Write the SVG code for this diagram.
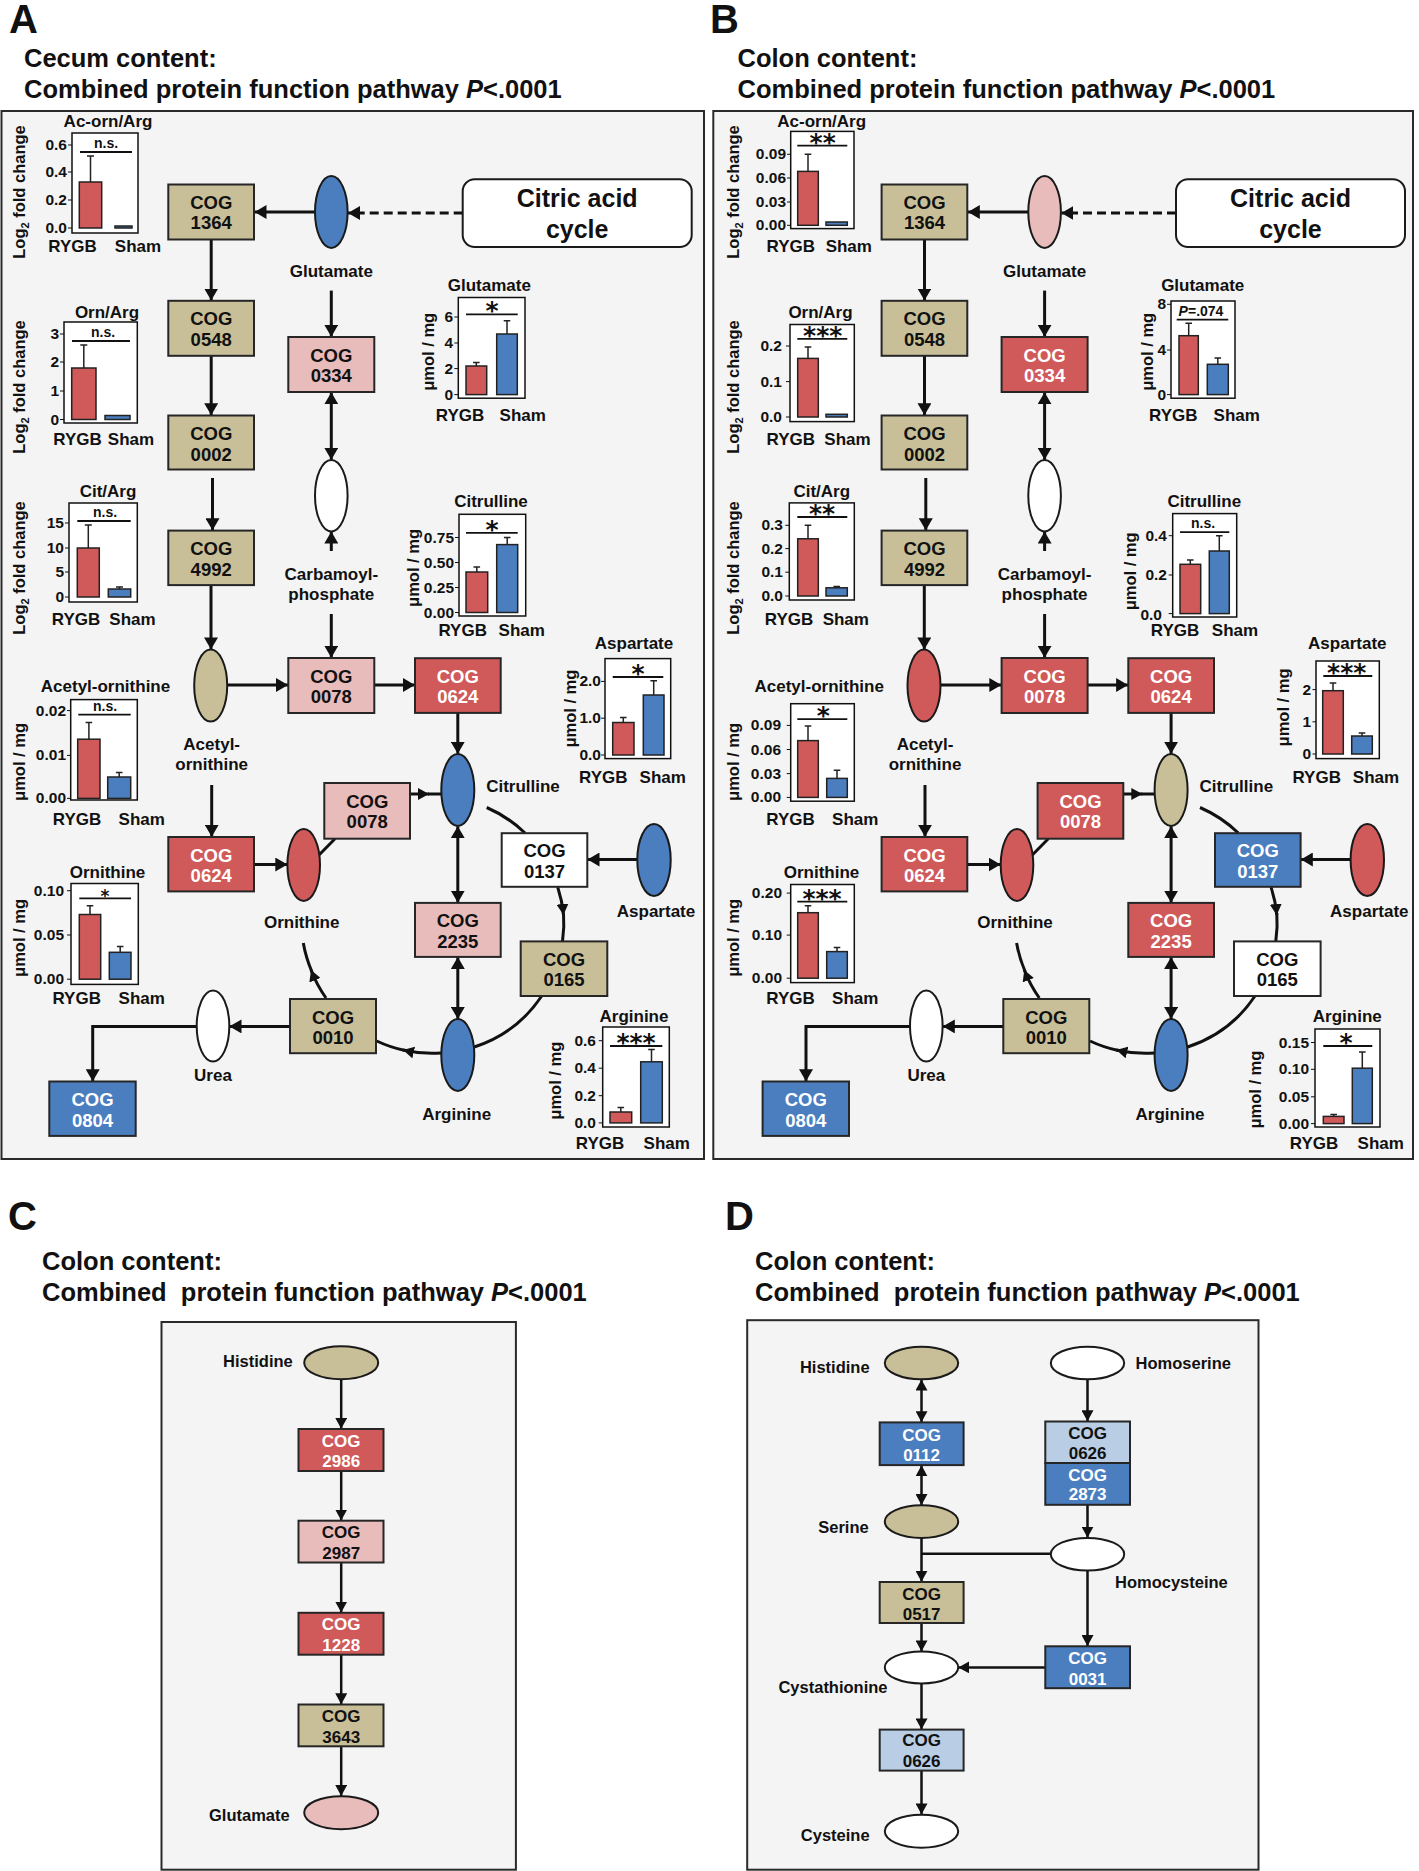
<svg xmlns="http://www.w3.org/2000/svg" width="1419" height="1871" viewBox="0 0 1419 1871">
<defs>
<style>
text{font-family:"Liberation Sans",Arial,Helvetica,sans-serif;font-weight:bold;fill:#111}
.frame{fill:#f4f4f4;stroke:#2a2a2a;stroke-width:2}
.cog{stroke:#262626;stroke-width:2}
.ell{stroke:#1a1a1a;stroke-width:2}
.tan{fill:#c8bf98}.pink{fill:#e9bcbc}.red{fill:#d05a5a}.blue{fill:#4a7ebf}.lblue{fill:#b9cde5}.wht{fill:#ffffff}
.ct{font-size:18.5px;text-anchor:middle}
.cs{font-size:17px;text-anchor:middle}
.ctw{fill:#fff}
.nl{font-size:17px;text-anchor:middle}
.nle{font-size:16.5px;text-anchor:end}
.nls{font-size:16.5px;text-anchor:start}
.pl{font-size:40px}
.t1{font-size:25.5px}
.cit{font-size:25px;text-anchor:middle}
.c{stroke:#111;stroke-width:3;fill:none}
.c2{stroke:#111;stroke-width:2.5;fill:none}
.dash{stroke-dasharray:9 5}
.chbox{fill:#fff;stroke:#111;stroke-width:1.5}
.br{fill:#d05a5a;stroke:#222;stroke-width:1.5}
.bb{fill:#4a7ebf;stroke:#222;stroke-width:1.5}
.err{stroke:#222;stroke-width:1.5;fill:none}
.sig{stroke:#111;stroke-width:1.8}
.tk{font-size:15.5px;text-anchor:end}
.tkm{stroke:#111;stroke-width:1;fill:none}
.grp{font-size:17px;text-anchor:middle}
.ttl{font-size:17px;text-anchor:middle}
.yl{font-size:16.5px;text-anchor:middle}
.ns{font-size:14px;text-anchor:middle}
.ast{font-family:"DejaVu Sans",sans-serif;font-size:25px;text-anchor:middle}
.pv{font-size:14px;text-anchor:middle}
</style>
<marker id="ah" viewBox="0 0 12 14" refX="12" refY="7" markerWidth="12" markerHeight="14" markerUnits="userSpaceOnUse" orient="auto-start-reverse"><path d="M0,0L12,7L0,14z" fill="#111"/></marker>
<marker id="ah2" viewBox="0 0 11 12" refX="11" refY="6" markerWidth="11" markerHeight="12" markerUnits="userSpaceOnUse" orient="auto-start-reverse"><path d="M0,0L11,6L0,12z" fill="#111"/></marker>
</defs>
<rect x="0" y="0" width="1419" height="1871" fill="#fff"/>

<!-- ================= PANEL A ================= -->
<g id="panelA-header">
<text class="pl" x="9" y="33">A</text>
<text class="t1" x="24" y="67">Cecum content:</text>
<text class="t1" x="24" y="98">Combined protein function pathway <tspan font-style="italic">P</tspan>&lt;.0001</text>
</g>
<rect id="frameA" class="frame" x="1.5" y="111" width="702.5" height="1048"/>

<g id="A-chart-acorn-arg">
<text class="ttl" x="108" y="127">Ac-orn/Arg</text>
<rect class="chbox" x="72" y="133" width="66" height="100"/>
<path class="tkm" d="M68,145H72M68,172H72M68,200H72M68,228H72"/>
<text class="tk" x="67" y="150">0.6</text><text class="tk" x="67" y="177">0.4</text><text class="tk" x="67" y="205">0.2</text><text class="tk" x="67" y="233">0.0</text>
<line class="sig" x1="80" y1="152" x2="132" y2="152"/><text class="ns" x="106" y="148">n.s.</text>
<rect class="br" x="79.3" y="182" width="22.4" height="46"/><path class="err" d="M90.5,182V156M87,156H94"/>
<rect class="bb" x="115" y="226" width="17" height="2"/>
<text class="grp" x="72.5" y="252">RYGB</text><text class="grp" x="138" y="252">Sham</text>
<text class="yl" transform="translate(19 192) rotate(-90)" y="6">Log<tspan font-size="11" dy="4">2</tspan><tspan dy="-4"> fold change</tspan></text>
</g>

<g id="A-chart-orn-arg">
<text class="ttl" x="107" y="317.5">Orn/Arg</text>
<rect class="chbox" x="64" y="322" width="73.3" height="101"/>
<path class="tkm" d="M60,334H64M60,362H64M60,391H64M60,419.5H64"/>
<text class="tk" x="59" y="339">3</text><text class="tk" x="59" y="367">2</text><text class="tk" x="59" y="396">1</text><text class="tk" x="59" y="424.5">0</text>
<line class="sig" x1="72" y1="341" x2="130" y2="341"/><text class="ns" x="103" y="337">n.s.</text>
<rect class="br" x="71.7" y="368" width="24.3" height="51.5"/><path class="err" d="M83.8,368V345M80.3,345H87.3"/>
<rect class="bb" x="105" y="415.5" width="25" height="4"/>
<text class="grp" x="77.5" y="445">RYGB</text><text class="grp" x="131" y="445">Sham</text>
<text class="yl" transform="translate(19 387) rotate(-90)" y="6">Log<tspan font-size="11" dy="4">2</tspan><tspan dy="-4"> fold change</tspan></text>
</g>

<g id="A-chart-cit-arg">
<text class="ttl" x="108" y="497">Cit/Arg</text>
<rect class="chbox" x="69" y="503" width="68.3" height="99"/>
<path class="tkm" d="M65,523H69M65,548H69M65,572H69M65,597H69"/>
<text class="tk" x="64" y="528">15</text><text class="tk" x="64" y="553">10</text><text class="tk" x="64" y="577">5</text><text class="tk" x="64" y="602">0</text>
<line class="sig" x1="77.3" y1="521" x2="130.7" y2="521"/><text class="ns" x="105" y="517">n.s.</text>
<rect class="br" x="77.3" y="548" width="22" height="49"/><path class="err" d="M88.3,548V525M84.8,525H91.8"/>
<rect class="bb" x="108.3" y="589" width="22.4" height="8"/><path class="err" d="M119.5,589V587M116,587H123"/>
<text class="grp" x="76" y="624.5">RYGB</text><text class="grp" x="132.5" y="624.5">Sham</text>
<text class="yl" transform="translate(19 568) rotate(-90)" y="6">Log<tspan font-size="11" dy="4">2</tspan><tspan dy="-4"> fold change</tspan></text>
</g>

<g id="A-chart-glutamate">
<text class="ttl" x="489.3" y="291">Glutamate</text>
<rect class="chbox" x="458.3" y="297.5" width="66.7" height="100.7"/>
<path class="tkm" d="M454.3,317H458.3M454.3,343H458.3M454.3,368.6H458.3M454.3,394.6H458.3"/>
<text class="tk" x="453" y="322">6</text><text class="tk" x="453" y="348">4</text><text class="tk" x="453" y="373.6">2</text><text class="tk" x="453" y="399.6">0</text>
<line class="sig" x1="466" y1="314.3" x2="517.7" y2="314.3"/><text class="ast" x="492" y="319.3">*</text>
<rect class="br" x="466" y="366" width="20.7" height="28.6"/><path class="err" d="M476.3,366V362.5M473,362.5H479.6"/>
<rect class="bb" x="496.7" y="334" width="20.6" height="60.6"/><path class="err" d="M507,334V320.7M503.7,320.7H510.3"/>
<text class="grp" x="460" y="421.4">RYGB</text><text class="grp" x="522.7" y="421.4">Sham</text>
<text class="yl" transform="translate(428.3 351.8) rotate(-90)" y="6">μmol / mg</text>
</g>

<g id="A-chart-citrulline">
<text class="ttl" x="491" y="507">Citrulline</text>
<rect class="chbox" x="459" y="514.3" width="66.7" height="101.7"/>
<path class="tkm" d="M455,537.5H459M455,562.5H459M455,587.5H459M455,612.5H459"/>
<text class="tk" x="454" y="542.5">0.75</text><text class="tk" x="454" y="567.5">0.50</text><text class="tk" x="454" y="592.5">0.25</text><text class="tk" x="454" y="617.5">0.00</text>
<line class="sig" x1="466" y1="532.9" x2="517.7" y2="532.9"/><text class="ast" x="492" y="537.9">*</text>
<rect class="br" x="466" y="572" width="21.7" height="40.5"/><path class="err" d="M476.8,572V567M473.5,567H480.1"/>
<rect class="bb" x="496.7" y="544.6" width="21" height="67.9"/><path class="err" d="M507.2,544.6V537.5M503.9,537.5H510.5"/>
<text class="grp" x="462.7" y="635.7">RYGB</text><text class="grp" x="521.7" y="635.7">Sham</text>
<text class="yl" transform="translate(413.3 568) rotate(-90)" y="6">μmol / mg</text>
</g>

<g id="A-chart-aspartate">
<text class="ttl" x="634" y="649.3">Aspartate</text>
<rect class="chbox" x="605" y="658.6" width="65.7" height="100"/>
<path class="tkm" d="M601,681.4H605M601,718.2H605M601,755H605"/>
<text class="tk" x="601" y="686.4">2.0</text><text class="tk" x="601" y="723.2">1.0</text><text class="tk" x="601" y="760">0.0</text>
<line class="sig" x1="612.7" y1="677" x2="663.3" y2="677"/><text class="ast" x="638" y="682">*</text>
<rect class="br" x="612.7" y="722.5" width="21.3" height="32.5"/><path class="err" d="M623.3,722.5V717.5M620,717.5H626.6"/>
<rect class="bb" x="643.3" y="695" width="20.7" height="60"/><path class="err" d="M653.7,695V680.7M650.4,680.7H657"/>
<text class="grp" x="603.3" y="782.5">RYGB</text><text class="grp" x="662.7" y="782.5">Sham</text>
<text class="yl" transform="translate(570 708.6) rotate(-90)" y="6">μmol / mg</text>
</g>

<g id="A-chart-acetylornithine">
<text class="ttl" x="105.5" y="691.7">Acetyl-ornithine</text>
<rect class="chbox" x="70.7" y="699.6" width="66.6" height="100.4"/>
<path class="tkm" d="M67,710.6H70.7M67,755.4H70.7M67,798.4H70.7"/>
<text class="tk" x="66" y="715.6">0.02</text><text class="tk" x="66" y="760.4">0.01</text><text class="tk" x="66" y="803.4">0.00</text>
<line class="sig" x1="78.3" y1="714.7" x2="130.7" y2="714.7"/><text class="ns" x="105" y="710.7">n.s.</text>
<rect class="br" x="77.7" y="739.2" width="22.3" height="59.2"/><path class="err" d="M88.9,739.2V722.6M85.6,722.6H92.2"/>
<rect class="bb" x="107.7" y="777" width="23" height="21.4"/><path class="err" d="M119.2,777V772.6M115.9,772.6H122.5"/>
<text class="grp" x="77" y="825.3">RYGB</text><text class="grp" x="141.7" y="825.3">Sham</text>
<text class="yl" transform="translate(19 762) rotate(-90)" y="6">μmol / mg</text>
</g>

<g id="A-chart-ornithine">
<text class="ttl" x="107.5" y="877.6">Ornithine</text>
<rect class="chbox" x="71" y="883.5" width="67.3" height="100.9"/>
<path class="tkm" d="M67,890.7H71M67,935H71M67,979.2H71"/>
<text class="tk" x="64" y="895.7">0.10</text><text class="tk" x="64" y="940">0.05</text><text class="tk" x="64" y="984.2">0.00</text>
<line class="sig" x1="79.3" y1="898.3" x2="131" y2="898.3"/><text class="ast" x="105" y="901.8" style="font-size:17px">*</text>
<rect class="br" x="79.3" y="914.5" width="21.4" height="64.7"/><path class="err" d="M90,914.5V905.8M86.7,905.8H93.3"/>
<rect class="bb" x="109.3" y="952.3" width="21.7" height="26.9"/><path class="err" d="M120.2,952.3V946.5M116.9,946.5H123.5"/>
<text class="grp" x="76.7" y="1004.3">RYGB</text><text class="grp" x="141.7" y="1004.3">Sham</text>
<text class="yl" transform="translate(19 938) rotate(-90)" y="6">μmol / mg</text>
</g>

<g id="A-chart-arginine">
<text class="ttl" x="634" y="1021.8">Arginine</text>
<rect class="chbox" x="602.7" y="1027" width="66.6" height="100"/>
<path class="tkm" d="M598.7,1040.7H602.7M598.7,1068.2H602.7M598.7,1095.7H602.7M598.7,1122.9H602.7"/>
<text class="tk" x="596" y="1045.7">0.6</text><text class="tk" x="596" y="1073.2">0.4</text><text class="tk" x="596" y="1100.7">0.2</text><text class="tk" x="596" y="1127.9">0.0</text>
<line class="sig" x1="610" y1="1046" x2="662.3" y2="1046"/><text class="ast" x="636" y="1051">***</text>
<rect class="br" x="610" y="1112" width="21.7" height="10.9"/><path class="err" d="M620.8,1112V1107.5M617.5,1107.5H624.1"/>
<rect class="bb" x="640.7" y="1061.8" width="21.6" height="61.1"/><path class="err" d="M651.5,1061.8V1049.6M648.2,1049.6H654.8"/>
<text class="grp" x="600" y="1149.3">RYGB</text><text class="grp" x="666.7" y="1149.3">Sham</text>
<text class="yl" transform="translate(555 1080.7) rotate(-90)" y="6">μmol / mg</text>
</g>

<g id="connectors-A">
<line class="c" x1="315" y1="212" x2="254.5" y2="212" marker-end="url(#ah)"/>
<line class="c dash" x1="462.7" y1="213" x2="348" y2="213" marker-end="url(#ah)"/>
<line class="c" x1="211.2" y1="240" x2="211.2" y2="300.5" marker-end="url(#ah)"/>
<line class="c" x1="211.2" y1="355.8" x2="211.2" y2="415.2" marker-end="url(#ah)"/>
<line class="c" x1="212.5" y1="478" x2="212.5" y2="530.3" marker-end="url(#ah)"/>
<line class="c" x1="211" y1="585.6" x2="211" y2="649.4" marker-end="url(#ah)"/>
<line class="c" x1="331.3" y1="290.6" x2="331.3" y2="336.8" marker-end="url(#ah)"/>
<line class="c" x1="331.3" y1="392.3" x2="331.3" y2="459.8" marker-start="url(#ah)" marker-end="url(#ah)"/>
<line class="c" x1="331.3" y1="551" x2="331.3" y2="531.6" marker-end="url(#ah)"/>
<line class="c" x1="331.3" y1="614" x2="331.3" y2="657.8" marker-end="url(#ah)"/>
<line class="c" x1="227.2" y1="685" x2="288" y2="685" marker-end="url(#ah)"/>
<line class="c" x1="374.3" y1="685" x2="414.8" y2="685" marker-end="url(#ah)"/>
<line class="c" x1="457.8" y1="713" x2="457.8" y2="753.8" marker-end="url(#ah)"/>
<line class="c" x1="211.7" y1="785" x2="211.7" y2="836.8" marker-end="url(#ah)"/>
<line class="c" x1="254" y1="864.5" x2="287.3" y2="864.5" marker-end="url(#ah)"/>
<line class="c" x1="319" y1="855" x2="335" y2="838.7"/>
<line class="c" x1="410" y1="794" x2="429" y2="794" marker-end="url(#ah2)"/>
<line class="c" x1="428" y1="794" x2="441.5" y2="794"/>
<line class="c" x1="457.8" y1="826.2" x2="457.8" y2="902.7" marker-start="url(#ah)" marker-end="url(#ah)"/>
<line class="c" x1="457.8" y1="957" x2="457.8" y2="1019" marker-start="url(#ah)" marker-end="url(#ah)"/>
<path class="c" d="M486.7,807.5A129,129 0 0 1 525,833"/>
<path class="c" d="M557.7,887A129,129 0 0 1 563.5,915" marker-end="url(#ah2)"/>
<path class="c" d="M563.5,913A129,129 0 0 1 562.5,941.2"/>
<path class="c" d="M541.7,996A129,129 0 0 1 474.3,1047"/>
<path class="c" d="M441,1053A129,129 0 0 1 403,1050" marker-end="url(#ah2)"/>
<path class="c" d="M405,1050.5A129,129 0 0 1 376.7,1041"/>
<path class="c" d="M326,998A131,131 0 0 1 311,970" marker-end="url(#ah2)"/>
<path class="c" d="M312,972A131,131 0 0 1 303.3,943"/>
<line class="c" x1="637.3" y1="859.5" x2="587.5" y2="859.5" marker-end="url(#ah)"/>
<line class="c" x1="290" y1="1026.4" x2="229.5" y2="1026.4" marker-end="url(#ah)"/>
<path class="c" d="M196.7,1026.4H92.7V1081.3" marker-end="url(#ah)"/>
</g>

<g id="A-cog1364"><rect class="cog tan" x="168.3" y="184.5" width="85.7" height="55"/><text class="ct" x="211.2" y="209">COG</text><text class="ct" x="211.2" y="229.4">1364</text></g>
<g id="A-cog0548"><rect class="cog tan" x="168.3" y="300.8" width="85.7" height="55"/><text class="ct" x="211.2" y="325.3">COG</text><text class="ct" x="211.2" y="345.8">0548</text></g>
<g id="A-cog0002"><rect class="cog tan" x="168.3" y="415.5" width="85.7" height="54"/><text class="ct" x="211.2" y="440">COG</text><text class="ct" x="211.2" y="460.5">0002</text></g>
<g id="A-cog4992"><rect class="cog tan" x="168.3" y="530.6" width="85.7" height="54.5"/><text class="ct" x="211.2" y="555.1">COG</text><text class="ct" x="211.2" y="575.6">4992</text></g>
<g id="A-glutamate"><ellipse class="ell blue" cx="331.3" cy="212" rx="16.3" ry="36"/><text class="nl" x="331.3" y="276.7">Glutamate</text></g>
<g id="A-citric"><rect x="462.7" y="179.3" width="229" height="67.7" rx="12" fill="#fff" stroke="#1a1a1a" stroke-width="2"/><text class="cit" x="577.2" y="207">Citric acid</text><text class="cit" x="577.2" y="237.5">cycle</text></g>
<g id="A-cog0334"><rect class="cog pink" x="288.3" y="337" width="86" height="55"/><text class="ct" x="331.3" y="361.5">COG</text><text class="ct" x="331.3" y="382">0334</text></g>
<g id="A-carbamoyl"><ellipse class="ell wht" cx="331.3" cy="495.7" rx="16.3" ry="35.7"/><text class="nl" x="331.3" y="579.6">Carbamoyl-</text><text class="nl" x="331.3" y="600">phosphate</text></g>
<g id="A-acetylornithine"><ellipse class="ell tan" cx="210.7" cy="685.6" rx="16.5" ry="36"/><text class="nl" x="211.7" y="749.5">Acetyl-</text><text class="nl" x="211.7" y="770">ornithine</text></g>
<g id="A-cog0078a"><rect class="cog pink" x="288.3" y="658" width="86" height="55"/><text class="ct" x="331.3" y="682.5">COG</text><text class="ct" x="331.3" y="703">0078</text></g>
<g id="A-cog0624a"><rect class="cog red" x="415" y="658.2" width="85.7" height="54.7"/><text class="ct ctw" x="457.8" y="682.7">COG</text><text class="ct ctw" x="457.8" y="703.2">0624</text></g>
<g id="A-cog0624b"><rect class="cog red" x="168.3" y="837" width="85.7" height="54.4"/><text class="ct ctw" x="211.2" y="861.5">COG</text><text class="ct ctw" x="211.2" y="882">0624</text></g>
<g id="A-ornithine"><ellipse class="ell red" cx="303.7" cy="865" rx="16.3" ry="36"/><text class="nl" x="301.7" y="927.5">Ornithine</text></g>
<g id="A-cog0078b"><rect class="cog pink" x="324.3" y="783" width="85.7" height="55.7"/><text class="ct" x="367.2" y="807.5">COG</text><text class="ct" x="367.2" y="828">0078</text></g>
<g id="A-citrulline"><ellipse class="ell blue" cx="457.8" cy="790" rx="16.5" ry="36"/><text class="nl" x="523" y="792">Citrulline</text></g>
<g id="A-cog0137"><rect class="cog wht" x="501.7" y="833.2" width="85.6" height="53.6"/><text class="ct" x="544.5" y="857.2">COG</text><text class="ct" x="544.5" y="877.7">0137</text></g>
<g id="A-aspartate"><ellipse class="ell blue" cx="654" cy="860" rx="16.7" ry="36"/><text class="nl" x="656" y="917">Aspartate</text></g>
<g id="A-cog2235"><rect class="cog pink" x="415" y="902.9" width="85.7" height="54"/><text class="ct" x="457.8" y="927.4">COG</text><text class="ct" x="457.8" y="947.9">2235</text></g>
<g id="A-cog0165"><rect class="cog tan" x="520.7" y="941.4" width="86.6" height="54.6"/><text class="ct" x="564" y="965.9">COG</text><text class="ct" x="564" y="986.4">0165</text></g>
<g id="A-arginine"><ellipse class="ell blue" cx="457.8" cy="1055" rx="16.5" ry="36"/><text class="nl" x="456.7" y="1120">Arginine</text></g>
<g id="A-cog0010"><rect class="cog tan" x="290" y="999" width="86" height="54.2"/><text class="ct" x="333" y="1023.5">COG</text><text class="ct" x="333" y="1044">0010</text></g>
<g id="A-urea"><ellipse class="ell wht" cx="213" cy="1026" rx="16.3" ry="35.6"/><text class="nl" x="213" y="1080.8">Urea</text></g>
<g id="A-cog0804"><rect class="cog blue" x="49.3" y="1081.5" width="86.4" height="54.4"/><text class="ct ctw" x="92.5" y="1106">COG</text><text class="ct ctw" x="92.5" y="1126.5">0804</text></g>

<!-- ================= PANEL B ================= -->
<g id="panelB-header">
<text class="pl" x="710" y="33">B</text>
<text class="t1" x="737.5" y="67">Colon content:</text>
<text class="t1" x="737.5" y="98">Combined protein function pathway <tspan font-style="italic">P</tspan>&lt;.0001</text>
</g>
<rect id="frameB" class="frame" x="713.3" y="111" width="699.7" height="1048"/>

<g id="B-chart-acorn-arg">
<text class="ttl" x="821.7" y="127">Ac-orn/Arg</text>
<rect class="chbox" x="790.7" y="131.4" width="63.3" height="97.2"/>
<path class="tkm" d="M787,154.3H790.7M787,178H790.7M787,202H790.7M787,225.3H790.7"/>
<text class="tk" x="786" y="159.3">0.09</text><text class="tk" x="786" y="183">0.06</text><text class="tk" x="786" y="207">0.03</text><text class="tk" x="786" y="230.3">0.00</text>
<line class="sig" x1="797.3" y1="145.7" x2="847.3" y2="145.7"/><text class="ast" x="822.7" y="150.7">**</text>
<rect class="br" x="797.7" y="171.4" width="20.6" height="53.9"/><path class="err" d="M808,171.4V154.3M804.7,154.3H811.3"/>
<rect class="bb" x="826" y="222" width="21.3" height="3.3"/>
<text class="grp" x="790.8" y="252">RYGB</text><text class="grp" x="848.8" y="252">Sham</text>
<text class="yl" transform="translate(733.3 192) rotate(-90)" y="6">Log<tspan font-size="11" dy="4">2</tspan><tspan dy="-4"> fold change</tspan></text>
</g>

<g id="B-chart-orn-arg">
<text class="ttl" x="820.5" y="317.5">Orn/Arg</text>
<rect class="chbox" x="790" y="324.5" width="64.3" height="97.1"/>
<path class="tkm" d="M786,346H790M786,381.6H790M786,417H790"/>
<text class="tk" x="782" y="351">0.2</text><text class="tk" x="782" y="386.6">0.1</text><text class="tk" x="782" y="422">0.0</text>
<line class="sig" x1="797.3" y1="338.8" x2="847.3" y2="338.8"/><text class="ast" x="822.7" y="343.8">***</text>
<rect class="br" x="797.7" y="358.4" width="20.6" height="58.6"/><path class="err" d="M808,358.4V347M804.7,347H811.3"/>
<rect class="bb" x="826" y="414.3" width="21.3" height="2.7"/>
<text class="grp" x="790.8" y="445">RYGB</text><text class="grp" x="847.5" y="445">Sham</text>
<text class="yl" transform="translate(733.3 387) rotate(-90)" y="6">Log<tspan font-size="11" dy="4">2</tspan><tspan dy="-4"> fold change</tspan></text>
</g>

<g id="B-chart-cit-arg">
<text class="ttl" x="821.8" y="497">Cit/Arg</text>
<rect class="chbox" x="789.3" y="502.9" width="65" height="97.1"/>
<path class="tkm" d="M785.3,525.3H789.3M785.3,548.6H789.3M785.3,572.2H789.3M785.3,596H789.3"/>
<text class="tk" x="783" y="530.3">0.3</text><text class="tk" x="783" y="553.6">0.2</text><text class="tk" x="783" y="577.2">0.1</text><text class="tk" x="783" y="601">0.0</text>
<line class="sig" x1="797.3" y1="517" x2="847.3" y2="517"/><text class="ast" x="822" y="522">**</text>
<rect class="br" x="797.7" y="538.8" width="20.6" height="57.2"/><path class="err" d="M808,538.8V525.3M804.7,525.3H811.3"/>
<rect class="bb" x="826" y="587.8" width="21.3" height="8.2"/><path class="err" d="M836.7,587.8V586.5M833.4,586.5H840"/>
<text class="grp" x="789" y="624.5">RYGB</text><text class="grp" x="845.8" y="624.5">Sham</text>
<text class="yl" transform="translate(733.3 568) rotate(-90)" y="6">Log<tspan font-size="11" dy="4">2</tspan><tspan dy="-4"> fold change</tspan></text>
</g>

<g id="B-chart-glutamate">
<text class="ttl" x="1202.7" y="291">Glutamate</text>
<rect class="chbox" x="1171" y="301" width="64" height="97.2"/>
<path class="tkm" d="M1167,304.3H1171M1167,350H1171M1167,394.6H1171"/>
<text class="tk" x="1166" y="309.3">8</text><text class="tk" x="1166" y="355">4</text><text class="tk" x="1166" y="399.6">0</text>
<line class="sig" x1="1176.7" y1="319.6" x2="1228.3" y2="319.6"/><text class="pv" x="1201" y="316"><tspan font-style="italic">P</tspan>=.074</text>
<rect class="br" x="1179" y="335.7" width="19.3" height="58.9"/><path class="err" d="M1188.7,335.7V323.2M1185.4,323.2H1192"/>
<rect class="bb" x="1207.3" y="364.3" width="21" height="30.3"/><path class="err" d="M1217.8,364.3V357.9M1214.5,357.9H1221.1"/>
<text class="grp" x="1173.3" y="421.4">RYGB</text><text class="grp" x="1236.7" y="421.4">Sham</text>
<text class="yl" transform="translate(1146.7 351.8) rotate(-90)" y="6">μmol / mg</text>
</g>

<g id="B-chart-citrulline">
<text class="ttl" x="1204.3" y="507">Citrulline</text>
<rect class="chbox" x="1172.7" y="513.6" width="64" height="103.4"/>
<path class="tkm" d="M1168.7,535.7H1172.7M1168.7,575H1172.7M1168.7,613.6H1172.7"/>
<text class="tk" x="1167" y="540.7">0.4</text><text class="tk" x="1167" y="580">0.2</text><text class="tk" x="1162" y="620">0.0</text>
<line class="sig" x1="1180" y1="532.1" x2="1229.3" y2="532.1"/><text class="ns" x="1203" y="528">n.s.</text>
<rect class="br" x="1180" y="564.3" width="20.7" height="49.3"/><path class="err" d="M1190.3,564.3V560M1187,560H1193.6"/>
<rect class="bb" x="1209.3" y="551" width="20" height="62.6"/><path class="err" d="M1219.3,551V535.7M1216,535.7H1222.6"/>
<text class="grp" x="1175" y="635.7">RYGB</text><text class="grp" x="1235" y="635.7">Sham</text>
<text class="yl" transform="translate(1130 571.4) rotate(-90)" y="6">μmol / mg</text>
</g>

<g id="B-chart-aspartate">
<text class="ttl" x="1347.3" y="649.3">Aspartate</text>
<rect class="chbox" x="1316" y="661" width="63.3" height="97.6"/>
<path class="tkm" d="M1312.5,689.6H1316M1312.5,721.8H1316M1312.5,754H1316"/>
<text class="tk" x="1311" y="694.6">2</text><text class="tk" x="1311" y="726.8">1</text><text class="tk" x="1311" y="759">0</text>
<line class="sig" x1="1323.3" y1="676" x2="1372.3" y2="676"/><text class="ast" x="1346.7" y="681">***</text>
<rect class="br" x="1322.7" y="690.7" width="20.6" height="63.3"/><path class="err" d="M1333,690.7V682.9M1329.7,682.9H1336.3"/>
<rect class="bb" x="1351.7" y="736" width="20.6" height="18"/><path class="err" d="M1362,736V732.9M1358.7,732.9H1365.3"/>
<text class="grp" x="1316.7" y="782.5">RYGB</text><text class="grp" x="1376" y="782.5">Sham</text>
<text class="yl" transform="translate(1282.7 707.5) rotate(-90)" y="6">μmol / mg</text>
</g>

<g id="B-chart-acetylornithine">
<text class="ttl" x="819.2" y="691.7">Acetyl-ornithine</text>
<rect class="chbox" x="790.7" y="703.7" width="63.6" height="97.5"/>
<path class="tkm" d="M786.7,725.4H790.7M786.7,749.5H790.7M786.7,773.6H790.7M786.7,797.4H790.7"/>
<text class="tk" x="781" y="730.4">0.09</text><text class="tk" x="781" y="754.5">0.06</text><text class="tk" x="781" y="778.6">0.03</text><text class="tk" x="781" y="802.4">0.00</text>
<line class="sig" x1="797.3" y1="719.2" x2="847.3" y2="719.2"/><text class="ast" x="823.3" y="724.2">*</text>
<rect class="br" x="797.7" y="740.6" width="20.6" height="56.8"/><path class="err" d="M808,740.6V726.1M804.7,726.1H811.3"/>
<rect class="bb" x="826.7" y="778.4" width="20.6" height="19"/><path class="err" d="M837,778.4V770.2M833.7,770.2H840.3"/>
<text class="grp" x="790.5" y="825.3">RYGB</text><text class="grp" x="855.2" y="825.3">Sham</text>
<text class="yl" transform="translate(733.3 762) rotate(-90)" y="6">μmol / mg</text>
</g>

<g id="B-chart-ornithine">
<text class="ttl" x="821.5" y="877.6">Ornithine</text>
<rect class="chbox" x="790.7" y="884.5" width="63.6" height="98.1"/>
<path class="tkm" d="M786.7,893.1H790.7M786.7,935.1H790.7M786.7,978.2H790.7"/>
<text class="tk" x="782" y="898.1">0.20</text><text class="tk" x="782" y="940.1">0.10</text><text class="tk" x="782" y="983.2">0.00</text>
<line class="sig" x1="797.3" y1="901.7" x2="847.3" y2="901.7"/><text class="ast" x="822" y="906.7">***</text>
<rect class="br" x="797.7" y="912.7" width="20.6" height="65.5"/><path class="err" d="M808,912.7V905.8M804.7,905.8H811.3"/>
<rect class="bb" x="826.7" y="951.6" width="20.6" height="26.6"/><path class="err" d="M837,951.6V947.5M833.7,947.5H840.3"/>
<text class="grp" x="790.5" y="1004.3">RYGB</text><text class="grp" x="855.2" y="1004.3">Sham</text>
<text class="yl" transform="translate(733.3 937.9) rotate(-90)" y="6">μmol / mg</text>
</g>

<g id="B-chart-arginine">
<text class="ttl" x="1347.3" y="1021.8">Arginine</text>
<rect class="chbox" x="1315" y="1029" width="65" height="98"/>
<path class="tkm" d="M1311,1042.5H1315M1311,1069.3H1315M1311,1096.8H1315M1311,1123.6H1315"/>
<text class="tk" x="1309" y="1047.5">0.15</text><text class="tk" x="1309" y="1074.3">0.10</text><text class="tk" x="1309" y="1101.8">0.05</text><text class="tk" x="1309" y="1128.6">0.00</text>
<line class="sig" x1="1323.3" y1="1046" x2="1372.3" y2="1046"/><text class="ast" x="1346" y="1051">*</text>
<rect class="br" x="1323.3" y="1116.4" width="20.7" height="7.2"/><path class="err" d="M1333.7,1116.4V1114.5M1330.4,1114.5H1337"/>
<rect class="bb" x="1352.3" y="1068.2" width="20" height="55.4"/><path class="err" d="M1362.3,1068.2V1052.1M1359,1052.1H1365.6"/>
<text class="grp" x="1314" y="1149.3">RYGB</text><text class="grp" x="1380.7" y="1149.3">Sham</text>
<text class="yl" transform="translate(1255 1089.6) rotate(-90)" y="6">μmol / mg</text>
</g>

<g id="connectors-B" transform="translate(713.3 0)">
<line class="c" x1="315" y1="212" x2="254.5" y2="212" marker-end="url(#ah)"/>
<line class="c dash" x1="462.7" y1="213" x2="348" y2="213" marker-end="url(#ah)"/>
<line class="c" x1="211.2" y1="240" x2="211.2" y2="300.5" marker-end="url(#ah)"/>
<line class="c" x1="211.2" y1="355.8" x2="211.2" y2="415.2" marker-end="url(#ah)"/>
<line class="c" x1="212.5" y1="478" x2="212.5" y2="530.3" marker-end="url(#ah)"/>
<line class="c" x1="211" y1="585.6" x2="211" y2="649.4" marker-end="url(#ah)"/>
<line class="c" x1="331.3" y1="290.6" x2="331.3" y2="336.8" marker-end="url(#ah)"/>
<line class="c" x1="331.3" y1="392.3" x2="331.3" y2="459.8" marker-start="url(#ah)" marker-end="url(#ah)"/>
<line class="c" x1="331.3" y1="551" x2="331.3" y2="531.6" marker-end="url(#ah)"/>
<line class="c" x1="331.3" y1="614" x2="331.3" y2="657.8" marker-end="url(#ah)"/>
<line class="c" x1="227.2" y1="685" x2="288" y2="685" marker-end="url(#ah)"/>
<line class="c" x1="374.3" y1="685" x2="414.8" y2="685" marker-end="url(#ah)"/>
<line class="c" x1="457.8" y1="713" x2="457.8" y2="753.8" marker-end="url(#ah)"/>
<line class="c" x1="211.7" y1="785" x2="211.7" y2="836.8" marker-end="url(#ah)"/>
<line class="c" x1="254" y1="864.5" x2="287.3" y2="864.5" marker-end="url(#ah)"/>
<line class="c" x1="319" y1="855" x2="335" y2="838.7"/>
<line class="c" x1="410" y1="794" x2="429" y2="794" marker-end="url(#ah2)"/>
<line class="c" x1="428" y1="794" x2="441.5" y2="794"/>
<line class="c" x1="457.8" y1="826.2" x2="457.8" y2="902.7" marker-start="url(#ah)" marker-end="url(#ah)"/>
<line class="c" x1="457.8" y1="957" x2="457.8" y2="1019" marker-start="url(#ah)" marker-end="url(#ah)"/>
<path class="c" d="M486.7,807.5A129,129 0 0 1 525,833"/>
<path class="c" d="M557.7,887A129,129 0 0 1 563.5,915" marker-end="url(#ah2)"/>
<path class="c" d="M563.5,913A129,129 0 0 1 562.5,941.2"/>
<path class="c" d="M541.7,996A129,129 0 0 1 474.3,1047"/>
<path class="c" d="M441,1053A129,129 0 0 1 403,1050" marker-end="url(#ah2)"/>
<path class="c" d="M405,1050.5A129,129 0 0 1 376.7,1041"/>
<path class="c" d="M326,998A131,131 0 0 1 311,970" marker-end="url(#ah2)"/>
<path class="c" d="M312,972A131,131 0 0 1 303.3,943"/>
<line class="c" x1="637.3" y1="859.5" x2="587.5" y2="859.5" marker-end="url(#ah)"/>
<line class="c" x1="290" y1="1026.4" x2="229.5" y2="1026.4" marker-end="url(#ah)"/>
<path class="c" d="M196.7,1026.4H92.7V1081.3" marker-end="url(#ah)"/>
</g>

<g id="B-cog1364" transform="translate(713.3 0)"><rect class="cog tan" x="168.3" y="184.5" width="85.7" height="55"/><text class="ct" x="211.2" y="209">COG</text><text class="ct" x="211.2" y="229.4">1364</text></g>
<g id="B-cog0548" transform="translate(713.3 0)"><rect class="cog tan" x="168.3" y="300.8" width="85.7" height="55"/><text class="ct" x="211.2" y="325.3">COG</text><text class="ct" x="211.2" y="345.8">0548</text></g>
<g id="B-cog0002" transform="translate(713.3 0)"><rect class="cog tan" x="168.3" y="415.5" width="85.7" height="54"/><text class="ct" x="211.2" y="440">COG</text><text class="ct" x="211.2" y="460.5">0002</text></g>
<g id="B-cog4992" transform="translate(713.3 0)"><rect class="cog tan" x="168.3" y="530.6" width="85.7" height="54.5"/><text class="ct" x="211.2" y="555.1">COG</text><text class="ct" x="211.2" y="575.6">4992</text></g>
<g id="B-glutamate" transform="translate(713.3 0)"><ellipse class="ell pink" cx="331.3" cy="212" rx="16.3" ry="36"/><text class="nl" x="331.3" y="276.7">Glutamate</text></g>
<g id="B-citric" transform="translate(713.3 0)"><rect x="462.7" y="179.3" width="229" height="67.7" rx="12" fill="#fff" stroke="#1a1a1a" stroke-width="2"/><text class="cit" x="577.2" y="207">Citric acid</text><text class="cit" x="577.2" y="237.5">cycle</text></g>
<g id="B-cog0334" transform="translate(713.3 0)"><rect class="cog red" x="288.3" y="337" width="86" height="55"/><text class="ct ctw" x="331.3" y="361.5">COG</text><text class="ct ctw" x="331.3" y="382">0334</text></g>
<g id="B-carbamoyl" transform="translate(713.3 0)"><ellipse class="ell wht" cx="331.3" cy="495.7" rx="16.3" ry="35.7"/><text class="nl" x="331.3" y="579.6">Carbamoyl-</text><text class="nl" x="331.3" y="600">phosphate</text></g>
<g id="B-acetylornithine" transform="translate(713.3 0)"><ellipse class="ell red" cx="210.7" cy="685.6" rx="16.5" ry="36"/><text class="nl" x="211.7" y="749.5">Acetyl-</text><text class="nl" x="211.7" y="770">ornithine</text></g>
<g id="B-cog0078a" transform="translate(713.3 0)"><rect class="cog red" x="288.3" y="658" width="86" height="55"/><text class="ct ctw" x="331.3" y="682.5">COG</text><text class="ct ctw" x="331.3" y="703">0078</text></g>
<g id="B-cog0624a" transform="translate(713.3 0)"><rect class="cog red" x="415" y="658.2" width="85.7" height="54.7"/><text class="ct ctw" x="457.8" y="682.7">COG</text><text class="ct ctw" x="457.8" y="703.2">0624</text></g>
<g id="B-cog0624b" transform="translate(713.3 0)"><rect class="cog red" x="168.3" y="837" width="85.7" height="54.4"/><text class="ct ctw" x="211.2" y="861.5">COG</text><text class="ct ctw" x="211.2" y="882">0624</text></g>
<g id="B-ornithine" transform="translate(713.3 0)"><ellipse class="ell red" cx="303.7" cy="865" rx="16.3" ry="36"/><text class="nl" x="301.7" y="927.5">Ornithine</text></g>
<g id="B-cog0078b" transform="translate(713.3 0)"><rect class="cog red" x="324.3" y="783" width="85.7" height="55.7"/><text class="ct ctw" x="367.2" y="807.5">COG</text><text class="ct ctw" x="367.2" y="828">0078</text></g>
<g id="B-citrulline" transform="translate(713.3 0)"><ellipse class="ell tan" cx="457.8" cy="790" rx="16.5" ry="36"/><text class="nl" x="523" y="792">Citrulline</text></g>
<g id="B-cog0137" transform="translate(713.3 0)"><rect class="cog blue" x="501.7" y="833.2" width="85.6" height="53.6"/><text class="ct ctw" x="544.5" y="857.2">COG</text><text class="ct ctw" x="544.5" y="877.7">0137</text></g>
<g id="B-aspartate" transform="translate(713.3 0)"><ellipse class="ell red" cx="654" cy="860" rx="16.7" ry="36"/><text class="nl" x="656" y="917">Aspartate</text></g>
<g id="B-cog2235" transform="translate(713.3 0)"><rect class="cog red" x="415" y="902.9" width="85.7" height="54"/><text class="ct ctw" x="457.8" y="927.4">COG</text><text class="ct ctw" x="457.8" y="947.9">2235</text></g>
<g id="B-cog0165" transform="translate(713.3 0)"><rect class="cog wht" x="520.7" y="941.4" width="86.6" height="54.6"/><text class="ct" x="564" y="965.9">COG</text><text class="ct" x="564" y="986.4">0165</text></g>
<g id="B-arginine" transform="translate(713.3 0)"><ellipse class="ell blue" cx="457.8" cy="1055" rx="16.5" ry="36"/><text class="nl" x="456.7" y="1120">Arginine</text></g>
<g id="B-cog0010" transform="translate(713.3 0)"><rect class="cog tan" x="290" y="999" width="86" height="54.2"/><text class="ct" x="333" y="1023.5">COG</text><text class="ct" x="333" y="1044">0010</text></g>
<g id="B-urea" transform="translate(713.3 0)"><ellipse class="ell wht" cx="213" cy="1026" rx="16.3" ry="35.6"/><text class="nl" x="213" y="1080.8">Urea</text></g>
<g id="B-cog0804" transform="translate(713.3 0)"><rect class="cog blue" x="49.3" y="1081.5" width="86.4" height="54.4"/><text class="ct ctw" x="92.5" y="1106">COG</text><text class="ct ctw" x="92.5" y="1126.5">0804</text></g>

<!-- ================= PANEL C ================= -->
<g id="panelC-header">
<text class="pl" x="8" y="1230">C</text>
<text class="t1" x="42" y="1270">Colon content:</text>
<text class="t1" x="42" y="1301">Combined&#160; protein function pathway <tspan font-style="italic">P</tspan>&lt;.0001</text>
</g>
<rect id="frameC" class="frame" x="161.5" y="1322" width="354.4" height="547.7"/>
<g id="connectors-C">
<line class="c2" x1="341.2" y1="1379.2" x2="341.2" y2="1428.8" marker-end="url(#ah2)"/>
<line class="c2" x1="341.2" y1="1471" x2="341.2" y2="1520.5" marker-end="url(#ah2)"/>
<line class="c2" x1="341.2" y1="1562.5" x2="341.2" y2="1612.6" marker-end="url(#ah2)"/>
<line class="c2" x1="341.2" y1="1654.7" x2="341.2" y2="1704.3" marker-end="url(#ah2)"/>
<line class="c2" x1="341.2" y1="1746.3" x2="341.2" y2="1795.9" marker-end="url(#ah2)"/>
</g>
<g id="C-histidine"><ellipse class="ell tan" cx="341.2" cy="1362.7" rx="37" ry="16.5"/><text class="nle" x="292.8" y="1367.3">Histidine</text></g>
<g id="C-cog2986"><rect class="cog red" x="298.5" y="1429" width="85" height="42"/><text class="cs ctw" x="341.2" y="1446.6">COG</text><text class="cs ctw" x="341.2" y="1467.3">2986</text></g>
<g id="C-cog2987"><rect class="cog pink" x="298.5" y="1520.7" width="85" height="41.8"/><text class="cs" x="341.2" y="1538.3">COG</text><text class="cs" x="341.2" y="1559">2987</text></g>
<g id="C-cog1228"><rect class="cog red" x="298.5" y="1612.8" width="85" height="41.9"/><text class="cs ctw" x="341.2" y="1630.4">COG</text><text class="cs ctw" x="341.2" y="1651">1228</text></g>
<g id="C-cog3643"><rect class="cog tan" x="298.5" y="1704.5" width="85" height="41.8"/><text class="cs" x="341.2" y="1722">COG</text><text class="cs" x="341.2" y="1742.7">3643</text></g>
<g id="C-glutamate"><ellipse class="ell pink" cx="341.2" cy="1812.7" rx="37" ry="16.5"/><text class="nle" x="289.7" y="1821.3">Glutamate</text></g>

<!-- ================= PANEL D ================= -->
<g id="panelD-header">
<text class="pl" x="725" y="1230">D</text>
<text class="t1" x="755" y="1270">Colon content:</text>
<text class="t1" x="755" y="1301">Combined&#160; protein function pathway <tspan font-style="italic">P</tspan>&lt;.0001</text>
</g>
<rect id="frameD" class="frame" x="747.2" y="1320.2" width="511.3" height="549.5"/>
<g id="connectors-D">
<line class="c2" x1="921.5" y1="1379.5" x2="921.5" y2="1422.2" marker-start="url(#ah2)" marker-end="url(#ah2)"/>
<line class="c2" x1="921.5" y1="1465.3" x2="921.5" y2="1505.1" marker-start="url(#ah2)" marker-end="url(#ah2)"/>
<line class="c2" x1="921.5" y1="1538" x2="921.5" y2="1581.8" marker-end="url(#ah2)"/>
<line class="c2" x1="1050.8" y1="1553.7" x2="921.5" y2="1553.7"/>
<line class="c2" x1="1087.5" y1="1379.3" x2="1087.5" y2="1421.3" marker-end="url(#ah2)"/>
<line class="c2" x1="1087.5" y1="1505" x2="1087.5" y2="1537.7" marker-end="url(#ah2)"/>
<line class="c2" x1="1087.5" y1="1570.6" x2="1087.5" y2="1646.1" marker-end="url(#ah2)"/>
<line class="c2" x1="1045.3" y1="1667.4" x2="958.3" y2="1667.4" marker-end="url(#ah2)"/>
<line class="c2" x1="921.5" y1="1623" x2="921.5" y2="1651.4" marker-end="url(#ah2)"/>
<line class="c2" x1="921.5" y1="1683.5" x2="921.5" y2="1729.4" marker-end="url(#ah2)"/>
<line class="c2" x1="921.5" y1="1770.8" x2="921.5" y2="1814.4" marker-end="url(#ah2)"/>
</g>
<g id="D-histidine"><ellipse class="ell tan" cx="921.5" cy="1363" rx="36.7" ry="16.3"/><text class="nle" x="869.6" y="1373">Histidine</text></g>
<g id="D-cog0112"><rect class="cog blue" x="879.7" y="1422.4" width="83.9" height="42.7"/><text class="cs ctw" x="921.6" y="1441">COG</text><text class="cs ctw" x="921.6" y="1461.2">0112</text></g>
<g id="D-serine"><ellipse class="ell tan" cx="921.5" cy="1521.6" rx="36.7" ry="16.3"/><text class="nle" x="868.7" y="1532.6">Serine</text></g>
<g id="D-cog0517"><rect class="cog tan" x="879.7" y="1582" width="83.9" height="41"/><text class="cs" x="921.6" y="1599.6">COG</text><text class="cs" x="921.6" y="1619.8">0517</text></g>
<g id="D-cystathionine"><ellipse class="ell wht" cx="921.5" cy="1667.4" rx="36.7" ry="16"/><text class="nl" x="833" y="1692.6" style="font-size:16.5px">Cystathionine</text></g>
<g id="D-cog0626b"><rect class="cog lblue" x="879.7" y="1729.6" width="83.9" height="41"/><text class="cs" x="921.6" y="1746.3">COG</text><text class="cs" x="921.6" y="1767">0626</text></g>
<g id="D-cysteine"><ellipse class="ell wht" cx="921.5" cy="1831.2" rx="36.7" ry="16.5"/><text class="nle" x="869.6" y="1841">Cysteine</text></g>
<g id="D-homoserine"><ellipse class="ell wht" cx="1087.5" cy="1363" rx="36.7" ry="16.3"/><text class="nls" x="1135.6" y="1368.6">Homoserine</text></g>
<g id="D-cog0626a"><rect class="cog lblue" x="1045.3" y="1421.5" width="84.7" height="41.5"/><text class="cs" x="1087.6" y="1439">COG</text><text class="cs" x="1087.6" y="1459">0626</text></g>
<g id="D-cog2873"><rect class="cog blue" x="1045.3" y="1463" width="84.7" height="41.8"/><text class="cs ctw" x="1087.6" y="1480.6">COG</text><text class="cs ctw" x="1087.6" y="1500.4">2873</text></g>
<g id="D-homocysteine"><ellipse class="ell wht" cx="1087.5" cy="1554.2" rx="36.7" ry="16.3"/><text class="nls" x="1115" y="1587.7">Homocysteine</text></g>
<g id="D-cog0031"><rect class="cog blue" x="1045.3" y="1646.3" width="84.7" height="41.9"/><text class="cs ctw" x="1087.6" y="1664">COG</text><text class="cs ctw" x="1087.6" y="1684.6">0031</text></g>
</svg>
